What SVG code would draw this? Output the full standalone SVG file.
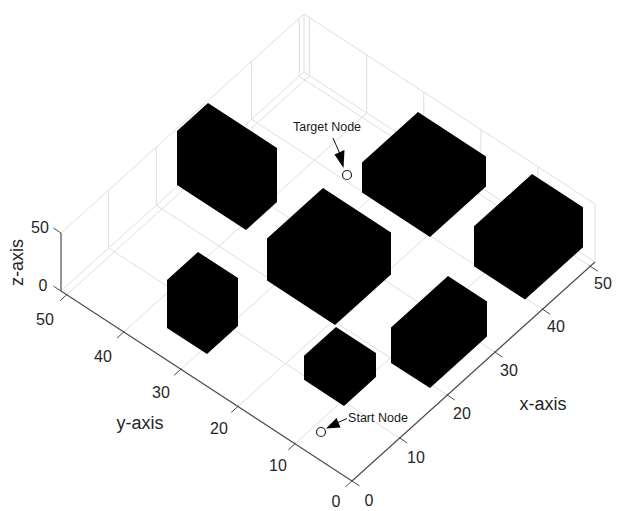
<svg xmlns="http://www.w3.org/2000/svg" width="620" height="511" viewBox="0 0 620 511">
<style>
.grid{stroke:#dedede;stroke-width:1;fill:none}
.axis{stroke:#4d4d4d;stroke-width:1.2;fill:none}
.tick{stroke:#4d4d4d;stroke-width:1;fill:none}
.tl{font-family:"Liberation Sans",Arial,sans-serif;font-size:16px;fill:#262626;text-anchor:middle}
.at{font-family:"Liberation Sans",Arial,sans-serif;font-size:18px;fill:#262626;text-anchor:middle}
.nl{font-family:"Liberation Sans",Arial,sans-serif;font-size:12.5px;fill:#1a1a1a;text-anchor:middle}
.blk{fill:#000;stroke:none}
.node{fill:#fff;stroke:#222;stroke-width:1.2}
.arr{stroke:#111;stroke-width:1;fill:none}
.head{fill:#000;stroke:none}
</style>
<rect width="620" height="511" fill="#fff"/>
<g id="grid">
<polyline class="grid" points="399.65,438.06 108.65,248.06 108.65,190.06"/>
<polyline class="grid" points="447.3,395.12 156.3,205.12 156.3,147.12"/>
<polyline class="grid" points="494.95,352.18 203.95,162.18 203.95,104.18"/>
<polyline class="grid" points="542.6,309.24 251.6,119.24 251.6,61.24"/>
<polyline class="grid" points="590.25,266.3 299.25,76.3 299.25,18.3"/>
<polyline class="grid" points="294.94,443.75 537.94,224.75 537.94,166.75"/>
<polyline class="grid" points="237.88,406.5 480.88,187.5 480.88,129.5"/>
<polyline class="grid" points="180.82,369.25 423.82,150.25 423.82,92.25"/>
<polyline class="grid" points="123.76,332 366.76,113 366.76,55"/>
<polyline class="grid" points="66.7,294.75 309.7,75.75 309.7,17.75"/>
<polyline class="grid" points="61,291 304,72 595,262"/>
<polyline class="grid" points="61,233 304,14 595,204"/>
<line class="grid" x1="304" y1="72" x2="304" y2="14"/>
<line class="grid" x1="595" y1="262" x2="595" y2="204"/>
</g>
<g id="axes">
<line class="axis" x1="352" y1="481" x2="595" y2="262"/>
<line class="axis" x1="352" y1="481" x2="61" y2="291"/>
<line class="axis" x1="61" y1="291" x2="61" y2="233"/>
<g class="tick">
<line x1="351.2" y1="480.5" x2="359.5" y2="485.9"/>
<line x1="399" y1="437.5" x2="407.2" y2="443"/>
<line x1="446.5" y1="394.6" x2="454.8" y2="400"/>
<line x1="494.1" y1="351.6" x2="502.5" y2="357.1"/>
<line x1="541.8" y1="308.7" x2="550.1" y2="314.2"/>
<line x1="589.4" y1="265.8" x2="597.8" y2="271.2"/>
<line x1="352.7" y1="480.3" x2="345.3" y2="487"/>
<line x1="295.7" y1="443.1" x2="288.3" y2="449.8"/>
<line x1="238.6" y1="405.8" x2="231.2" y2="412.5"/>
<line x1="181.6" y1="368.6" x2="174.1" y2="375.3"/>
<line x1="124.5" y1="331.3" x2="117.1" y2="338"/>
<line x1="67.4" y1="294.1" x2="60" y2="300.8"/>
<line x1="61" y1="291" x2="53.5" y2="286.1"/>
<line x1="61" y1="233" x2="53.5" y2="228.1"/>
</g>
<text class="tl" x="40" y="233">50</text>
<text class="tl" x="43" y="290.5">0</text>
<text class="tl" x="336" y="507">0</text>
<text class="tl" x="278" y="471">10</text>
<text class="tl" x="219" y="434">20</text>
<text class="tl" x="161" y="398">30</text>
<text class="tl" x="103" y="362">40</text>
<text class="tl" x="45" y="325">50</text>
<text class="tl" x="369" y="506">0</text>
<text class="tl" x="416" y="463">10</text>
<text class="tl" x="462" y="419">20</text>
<text class="tl" x="509" y="376">30</text>
<text class="tl" x="556" y="332">40</text>
<text class="tl" x="603" y="289">50</text>
<text class="at" x="543" y="410">x-axis</text>
<text class="at" x="140" y="429">y-axis</text>
<text class="at" transform="translate(23,262.5) rotate(-90)">z-axis</text>
</g>
<g id="obstacle1"><polygon class="blk" points="208,103 277,148 277,202 246,230 177,185 177,131"/></g>
<g id="obstacle2"><polygon class="blk" points="323,188 391,232.4 391,274.4 335,324.9 267,280.5 267,238.5"/></g>
<g id="obstacle3"><polygon class="blk" points="418,112 486,156.4 486,186.4 430,236.9 362,192.5 362,162.5"/></g>
<g id="obstacle4"><polygon class="blk" points="532,174 583,207.3 583,247.3 525,299.6 474,266.3 474,226.3"/></g>
<g id="obstacle5"><polygon class="blk" points="198,252 238,278.1 238,326.1 207,354 167,327.9 167,279.9"/></g>
<g id="obstacle6"><polygon class="blk" points="336,327 376,353.1 376,377.1 344,405.9 304,379.8 304,355.8"/></g>
<g id="obstacle7"><polygon class="blk" points="448,276 487,301.5 487,336.5 430,387.9 391,362.9 391,327.4"/></g>
<g id="target-node">
<circle class="node" cx="347" cy="175" r="4.5"/>
<text class="nl" x="327" y="131">Target Node</text>
</g>
<g id="start-node">
<circle class="node" cx="321" cy="432" r="4.5"/>
<text class="nl" x="378" y="421.5">Start Node</text>
</g>
<g id="connectors">
<line class="arr" x1="333" y1="138" x2="340" y2="154"/>
<polygon class="head" points="334.5,154.5 344.5,150 343.5,168"/>
<line class="arr" x1="347" y1="418.5" x2="337" y2="423"/>
<polygon class="head" points="336.5,418 340.5,427.5 326,428.5"/>
</g>
</svg>
